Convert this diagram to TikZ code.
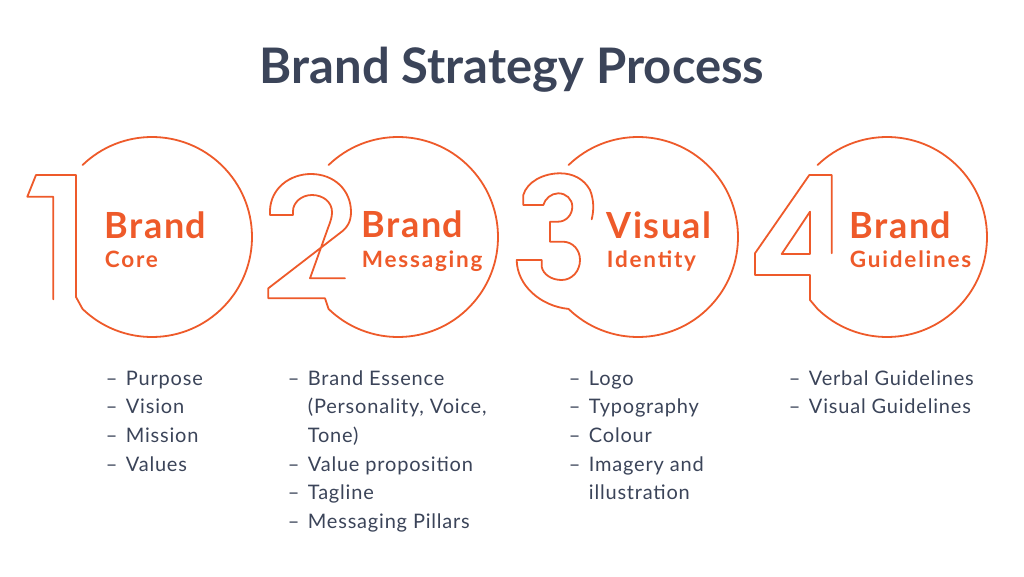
\documentclass[tikz,border=0pt]{standalone}
\usepackage{fontspec}
\setmainfont{Lato}
\usetikzlibrary{calc}
\definecolor{brandorange}{HTML}{EE5A2A}
\definecolor{slate}{HTML}{3B4459}
\newcommand{\listdash}{\makebox[20pt][l]{\textendash}}
\newcommand{\listgap}{\hspace*{20pt}}

\begin{document}
\begin{tikzpicture}[x=1pt,y=-1pt,line width=1.8pt,
  ring/.style={draw=brandorange,line join=round,line cap=round},
  head/.style={anchor=base west,inner sep=0pt,text=brandorange,font=\fontsize{36}{42}\selectfont\bfseries\addfontfeature{LetterSpace=4}},
  sub/.style={anchor=base west,inner sep=0pt,text=brandorange,font=\fontsize{22.5}{27}\selectfont\bfseries\addfontfeature{LetterSpace=8}},
  items/.style={anchor=base west,inner sep=0pt,text=slate,font=\fontsize{20}{28.7}\selectfont\addfontfeature{LetterSpace=4}}]
\useasboundingbox[fill=white] (0,0) rectangle (1024,576);
\node[anchor=base,inner sep=0pt,text=slate,font=\fontsize{49}{55}\selectfont\bfseries] (title) at (512,83) {Brand Strategy Process};
% ring centres
\coordinate (C1) at (152,237);
\coordinate (C2) at (398,237);
\coordinate (C3) at (638,237);
\coordinate (C4) at (887,237);
% one
\draw[ring] (53.3,299.3) -- (53.3,196.7) -- (27.3,196.7) -- (36,175) -- (76,175) -- (76,297)
  -- ($(C1)+(134:100)$) arc[start angle=134,end angle=-134,radius=100];
% two
\draw[ring] (345,278.3) -- (310,278.3) -- (328,228) .. controls (331,220) and (332,217) .. (332,212)
  .. controls (332,202) and (323,195) .. (312,195) .. controls (301,195) and (293,203) .. (293,211)
  -- (293,215) -- (270,215) -- (270,210) .. controls (271,188) and (290,174) .. (311,174)
  .. controls (334,174) and (351,190) .. (351,212) .. controls (351,222) and (347,228) .. (340,233)
  -- (268.3,288.3) -- (268.3,298.3) -- (325,298.3)
  -- ($(C2)+(134:100)$) arc[start angle=134,end angle=-134,radius=100];
% three
\draw[ring] (591.7,219.3) .. controls (594,210) and (594,200) .. (590,190)
  .. controls (584,179) and (573,173.3) .. (560,173.3) .. controls (543,173.3) and (527,182) .. (523.3,195)
  -- (523.3,205) -- (543.3,205) .. controls (545,199) and (551,193.3) .. (558.3,193.3)
  .. controls (566,193.3) and (572.3,199) .. (572.3,206.7) .. controls (572.3,215) and (566,221.7) .. (558,221.7)
  -- (550,221.7) -- (550,241.7) -- (563.3,241.7) .. controls (573,242) and (580,250) .. (580,260)
  .. controls (580,271) and (572,280) .. (561.7,280) .. controls (551,280) and (543,274) .. (541.7,266.7)
  -- (541.7,260) -- (516.7,260) .. controls (517,285) and (540,306) .. ($(C3)+(134:100)$)
  arc[start angle=134,end angle=-134,radius=100];
% four
\draw[ring] (831.7,253.3) -- (831.7,175) -- (809.3,175) -- (755,253.3) -- (755,275) -- (810,275) -- (810,300)
  -- ($(C4)+(134:100)$) arc[start angle=134,end angle=-134,radius=100];
\draw[ring] (810,211.7) -- (810,254) -- (781.7,254) -- cycle;
% ring labels
\node[head] (head1) at (104,238) {Brand};
\node[sub] (sub1) at (104,267) {Core};
\node[head] (head2) at (361,237) {Brand};
\node[sub] (sub2) at (361,267) {Messaging};
\node[head] (head3) at (606,238) {Visual};
\node[sub] (sub3) at (606,267) {Identity};
\node[head] (head4) at (849,238) {Brand};
\node[sub] (sub4) at (849,267) {Guidelines};
% lists
\node[items] (list1) at (105,385) {\begin{tabular}[t]{@{}l@{}}
  \listdash Purpose\\ \listdash Vision\\ \listdash Mission\\ \listdash Values\end{tabular}};
\node[items] (list2) at (287,385) {\begin{tabular}[t]{@{}l@{}}
  \listdash Brand Essence\\ \listgap(Personality, Voice,\\ \listgap Tone)\\
  \listdash Value proposition\\ \listdash Tagline\\ \listdash Messaging Pillars\end{tabular}};
\node[items] (list3) at (568,385) {\begin{tabular}[t]{@{}l@{}}
  \listdash Logo\\ \listdash Typography\\ \listdash Colour\\ \listdash Imagery and\\ \listgap illustration\end{tabular}};
\node[items] (list4) at (788,385) {\begin{tabular}[t]{@{}l@{}}
  \listdash Verbal Guidelines\\ \listdash Visual Guidelines\end{tabular}};
\end{tikzpicture}
\end{document}
